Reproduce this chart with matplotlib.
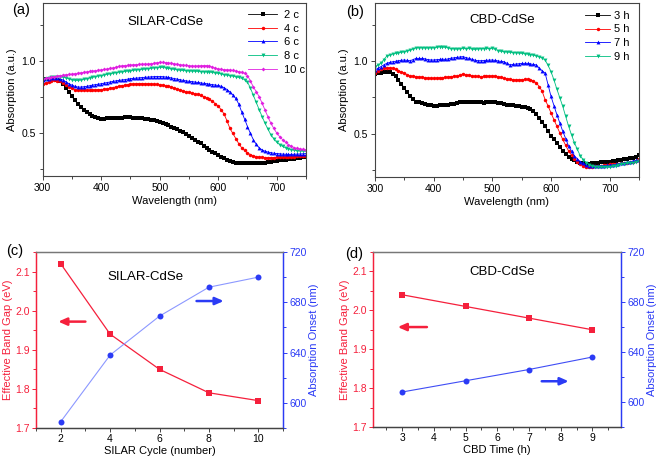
import numpy as np
import matplotlib
matplotlib.use("Agg")
import matplotlib.pyplot as plt
from matplotlib.ticker import MultipleLocator

plt.rcParams['font.family'] = ['Liberation Sans', 'DejaVu Sans']

# ---------------- data ----------------
wavelength = np.arange(300, 755, 5)

silar_labels = ["2 c", "4 c", "6 c", "8 c", "10 c"]
silar_2c = [0.868, 0.870, 0.872, 0.873, 0.872, 0.868, 0.860, 0.840, 0.812, 0.782,
            0.752, 0.724, 0.700, 0.679, 0.660, 0.644, 0.630, 0.617, 0.606, 0.600,
            0.598, 0.598, 0.600, 0.600, 0.601, 0.602, 0.604, 0.605, 0.606, 0.607,
            0.606, 0.605, 0.604, 0.602, 0.600, 0.597, 0.594, 0.590, 0.586, 0.582,
            0.577, 0.570, 0.562, 0.553, 0.543, 0.533, 0.523, 0.513, 0.502, 0.490,
            0.478, 0.465, 0.452, 0.439, 0.426, 0.410, 0.395, 0.381, 0.368, 0.358,
            0.349, 0.335, 0.322, 0.312, 0.304, 0.298, 0.293, 0.290, 0.288, 0.288,
            0.288, 0.288, 0.289, 0.290, 0.291, 0.292, 0.293, 0.296, 0.299, 0.302,
            0.305, 0.308, 0.311, 0.313, 0.315, 0.318, 0.321, 0.324, 0.327, 0.330,
            0.333]
silar_4c = [0.840, 0.845, 0.852, 0.860, 0.863, 0.862, 0.858, 0.848, 0.832, 0.818,
            0.808, 0.800, 0.796, 0.794, 0.794, 0.795, 0.795, 0.796, 0.797, 0.799,
            0.800, 0.802, 0.805, 0.808, 0.813, 0.818, 0.823, 0.827, 0.830, 0.834,
            0.837, 0.839, 0.840, 0.841, 0.841, 0.840, 0.840, 0.839, 0.837, 0.835,
            0.833, 0.830, 0.826, 0.822, 0.817, 0.810, 0.803, 0.796, 0.790, 0.784,
            0.780, 0.776, 0.772, 0.766, 0.759, 0.751, 0.742, 0.732, 0.718, 0.702,
            0.685, 0.660, 0.630, 0.582, 0.530, 0.495, 0.460, 0.425, 0.396, 0.377,
            0.360, 0.349, 0.340, 0.335, 0.331, 0.329, 0.328, 0.328, 0.328, 0.328,
            0.329, 0.329, 0.330, 0.331, 0.332, 0.333, 0.335, 0.337, 0.339, 0.341,
            0.342]
silar_6c = [0.868, 0.872, 0.876, 0.879, 0.880, 0.878, 0.874, 0.865, 0.852, 0.840,
            0.830, 0.822, 0.817, 0.817, 0.819, 0.822, 0.826, 0.830, 0.834, 0.837,
            0.840, 0.844, 0.848, 0.852, 0.856, 0.860, 0.863, 0.866, 0.868, 0.872,
            0.875, 0.877, 0.879, 0.881, 0.883, 0.885, 0.886, 0.888, 0.889, 0.890,
            0.890, 0.889, 0.887, 0.884, 0.880, 0.876, 0.872, 0.868, 0.863, 0.860,
            0.857, 0.855, 0.852, 0.849, 0.846, 0.843, 0.840, 0.837, 0.834, 0.831,
            0.828, 0.822, 0.813, 0.800, 0.783, 0.763, 0.738, 0.700, 0.646, 0.595,
            0.543, 0.495, 0.452, 0.420, 0.395, 0.381, 0.372, 0.366, 0.362, 0.358,
            0.356, 0.354, 0.352, 0.351, 0.350, 0.350, 0.351, 0.352, 0.353, 0.354,
            0.356]
silar_8c = [0.870, 0.876, 0.882, 0.886, 0.888, 0.890, 0.889, 0.885, 0.880, 0.874,
            0.868, 0.864, 0.863, 0.866, 0.870, 0.875, 0.880, 0.885, 0.890, 0.894,
            0.897, 0.901, 0.905, 0.909, 0.913, 0.917, 0.920, 0.922, 0.925, 0.928,
            0.930, 0.933, 0.936, 0.938, 0.940, 0.942, 0.945, 0.947, 0.950, 0.952,
            0.954, 0.953, 0.950, 0.946, 0.943, 0.940, 0.937, 0.934, 0.932, 0.930,
            0.929, 0.928, 0.927, 0.926, 0.924, 0.923, 0.922, 0.922, 0.918, 0.915,
            0.913, 0.908, 0.903, 0.900, 0.897, 0.893, 0.888, 0.884, 0.878, 0.868,
            0.852, 0.810, 0.760, 0.710, 0.660, 0.612, 0.566, 0.525, 0.486, 0.458,
            0.434, 0.418, 0.405, 0.396, 0.388, 0.383, 0.379, 0.376, 0.374, 0.373,
            0.372]
silar_10c = [0.874, 0.878, 0.882, 0.886, 0.890, 0.893, 0.896, 0.900, 0.903, 0.905,
             0.907, 0.910, 0.913, 0.916, 0.919, 0.922, 0.925, 0.928, 0.931, 0.934,
             0.936, 0.939, 0.942, 0.946, 0.950, 0.955, 0.960, 0.964, 0.966, 0.968,
             0.970, 0.972, 0.973, 0.975, 0.976, 0.977, 0.977, 0.979, 0.982, 0.986,
             0.989, 0.988, 0.986, 0.984, 0.982, 0.978, 0.975, 0.972, 0.970, 0.967,
             0.965, 0.964, 0.963, 0.964, 0.965, 0.966, 0.966, 0.962, 0.955, 0.948,
             0.943, 0.940, 0.938, 0.937, 0.936, 0.932, 0.928, 0.924, 0.920, 0.912,
             0.897, 0.860, 0.817, 0.785, 0.750, 0.705, 0.657, 0.610, 0.566, 0.530,
             0.498, 0.473, 0.452, 0.434, 0.418, 0.406, 0.396, 0.391, 0.388, 0.384,
             0.379]

cbd_labels = ["3 h", "5 h", "7 h", "9 h"]
cbd_3h = [0.911, 0.915, 0.920, 0.924, 0.927, 0.922, 0.911, 0.895, 0.870, 0.842,
          0.813, 0.784, 0.756, 0.735, 0.720, 0.714, 0.710, 0.705, 0.699, 0.695,
          0.692, 0.693, 0.694, 0.695, 0.696, 0.699, 0.702, 0.706, 0.710, 0.716,
          0.720, 0.718, 0.715, 0.714, 0.715, 0.716, 0.715, 0.713, 0.714, 0.716,
          0.717, 0.715, 0.712, 0.708, 0.705, 0.700, 0.696, 0.694, 0.692, 0.688,
          0.685, 0.681, 0.676, 0.666, 0.653, 0.632, 0.607, 0.582, 0.550, 0.515,
          0.482, 0.460, 0.436, 0.408, 0.379, 0.358, 0.340, 0.326, 0.315, 0.306,
          0.300, 0.295, 0.292, 0.293, 0.295, 0.297, 0.300, 0.302, 0.303, 0.305,
          0.306, 0.309, 0.311, 0.314, 0.317, 0.321, 0.325, 0.329, 0.333, 0.341,
          0.349]
cbd_5h = [0.920, 0.932, 0.943, 0.950, 0.954, 0.953, 0.950, 0.943, 0.934, 0.925,
          0.916, 0.906, 0.897, 0.895, 0.893, 0.890, 0.888, 0.885, 0.883, 0.882,
          0.881, 0.883, 0.885, 0.886, 0.888, 0.890, 0.893, 0.895, 0.897, 0.904,
          0.911, 0.906, 0.902, 0.898, 0.895, 0.894, 0.893, 0.894, 0.896, 0.897,
          0.897, 0.896, 0.893, 0.887, 0.881, 0.878, 0.875, 0.872, 0.870, 0.871,
          0.872, 0.873, 0.874, 0.870, 0.863, 0.848, 0.824, 0.790, 0.733, 0.690,
          0.642, 0.596, 0.550, 0.505, 0.459, 0.418, 0.379, 0.350, 0.326, 0.305,
          0.288, 0.277, 0.269, 0.270, 0.272, 0.274, 0.276, 0.279, 0.282, 0.285,
          0.288, 0.290, 0.291, 0.292, 0.294, 0.296, 0.299, 0.302, 0.304, 0.312,
          0.326]
cbd_7h = [0.938, 0.950, 0.961, 0.973, 0.984, 0.990, 0.995, 0.998, 1.002, 1.005,
          1.007, 1.004, 1.002, 1.010, 1.018, 1.018, 1.018, 1.015, 1.010, 1.007,
          1.007, 1.009, 1.011, 1.013, 1.011, 1.015, 1.020, 1.022, 1.025, 1.028,
          1.030, 1.024, 1.018, 1.012, 1.006, 1.002, 1.002, 1.003, 1.005, 1.006,
          1.007, 1.004, 1.000, 0.997, 0.995, 0.984, 0.973, 0.976, 0.979, 0.981,
          0.983, 0.984, 0.984, 0.980, 0.976, 0.973, 0.950, 0.933, 0.916, 0.836,
          0.756, 0.693, 0.630, 0.573, 0.516, 0.465, 0.413, 0.379, 0.345, 0.325,
          0.306, 0.294, 0.283, 0.279, 0.276, 0.276, 0.276, 0.277, 0.278, 0.280,
          0.281, 0.284, 0.287, 0.290, 0.294, 0.297, 0.301, 0.305, 0.311, 0.314,
          0.317]
cbd_9h = [0.961, 0.972, 0.984, 1.010, 1.034, 1.041, 1.048, 1.052, 1.057, 1.060,
          1.064, 1.070, 1.075, 1.083, 1.091, 1.091, 1.091, 1.090, 1.090, 1.091,
          1.091, 1.094, 1.098, 1.096, 1.094, 1.090, 1.086, 1.084, 1.082, 1.085,
          1.087, 1.085, 1.087, 1.083, 1.080, 1.083, 1.085, 1.086, 1.087, 1.086,
          1.087, 1.080, 1.072, 1.066, 1.064, 1.062, 1.060, 1.058, 1.057, 1.055,
          1.053, 1.050, 1.048, 1.044, 1.040, 1.035, 1.030, 1.020, 1.007, 0.970,
          0.927, 0.870, 0.806, 0.747, 0.687, 0.618, 0.550, 0.490, 0.436, 0.390,
          0.345, 0.320, 0.300, 0.286, 0.276, 0.272, 0.269, 0.269, 0.269, 0.269,
          0.269, 0.273, 0.277, 0.282, 0.288, 0.292, 0.295, 0.298, 0.300, 0.305,
          0.311]

silar_cycles = [2, 4, 6, 8, 10]
silar_gap = [2.12, 1.94, 1.85, 1.79, 1.77]
silar_onset = [585, 638, 669, 692, 700]

cbd_time = [3, 5, 7, 9]
cbd_gap = [2.04, 2.01, 1.98, 1.95]
cbd_onset = [608, 617, 626, 636]

# ---------------- style ----------------
W, H = 659, 458
fig = plt.figure(figsize=(W / 100, H / 100), dpi=100)

def rect(l, t, r, b):
    return [l / W, 1 - b / H, (r - l) / W, (b - t) / H]

FR = '#444444'
RED = '#F5203C'
BLUE = '#2B3BF5'
TICK_FS = 7.5
LAB_FS = 8
TITLE_FS = 9.5
PANEL_FS = 10.5

series_colors = ['#000000', '#FF0000', '#0000FF', '#00BF80', '#E020E0']
series_markers = ['s', 'o', '^', 'v', 'D']
series_ms = [2.3, 2.5, 2.8, 2.8, 2.0]

def style_axes(ax):
    for s in ax.spines.values():
        s.set_color(FR)
        s.set_linewidth(0.8)
    ax.tick_params(which='both', direction='out', colors=FR, width=0.7,
                   labelsize=TICK_FS, labelcolor='black', pad=2)
    ax.tick_params(which='major', length=3)
    ax.tick_params(which='minor', length=2)

def spectra(ax, data, labels, title, panel, title_xy, legend_anchor,
            handlelength, textpad):
    for i, (vals, lab) in enumerate(zip(data, labels)):
        ax.plot(wavelength, vals, color=series_colors[i], lw=0.6,
                marker=series_markers[i], ms=series_ms[i], mew=0,
                label=lab)
    ax.set_xlim(300, 750)
    ax.set_ylim(0.2, 1.4)
    ax.xaxis.set_major_locator(MultipleLocator(100))
    ax.xaxis.set_minor_locator(MultipleLocator(50))
    ax.yaxis.set_major_locator(MultipleLocator(0.5))
    ax.yaxis.set_minor_locator(MultipleLocator(0.25))
    ax.yaxis.set_major_formatter(plt.FuncFormatter(lambda v, p: f"{v:.1f}"))
    style_axes(ax)
    ax.set_xlabel("Wavelength (nm)", fontsize=LAB_FS, labelpad=2)
    ax.set_ylabel("Absorption (a.u.)", fontsize=LAB_FS, labelpad=3)
    ax.text(title_xy[0], title_xy[1], title, transform=ax.transAxes,
            fontsize=TITLE_FS, ha='center', va='center')
    ax.legend(loc='upper left', bbox_to_anchor=legend_anchor,
              frameon=False, fontsize=LAB_FS, handlelength=handlelength,
              handletextpad=textpad, labelspacing=0.33, numpoints=1,
              borderaxespad=0, borderpad=0)
    fig.text(panel[0] / W, 1 - panel[1] / H, panel[2], fontsize=PANEL_FS,
             ha='left', va='center')

# (a)
ax_a = fig.add_axes(rect(42.7, 3, 306, 176))
spectra(ax_a, [silar_2c, silar_4c, silar_6c, silar_8c, silar_10c],
        silar_labels, "SILAR-CdSe", (12, 10, "(a)"), (0.468, 0.89),
        (0.78, 0.96), 2.6, 0.6)

# (b)
ax_b = fig.add_axes(rect(375, 3, 639, 177))
spectra(ax_b, [cbd_3h, cbd_5h, cbd_7h, cbd_9h],
        cbd_labels, "CBD-CdSe", (346, 12, "(b)"), (0.48, 0.90),
        (0.795, 0.955), 2.3, 0.35)

def gap_panel(rec, x, gap, onset, xlim, xmaj, xmin, xlabel, title, title_xy,
              panel, red_arrow, blue_arrow, blue_line):
    ax = fig.add_axes(rec)
    ax2 = ax.twinx()
    ax.plot(x, gap, color=RED, lw=0.9, marker='s', ms=4, mew=0)
    ax2.plot(x, onset, color=blue_line, lw=0.8)
    ax2.plot(x, onset, ls='none', marker='o', ms=4.3, mew=0, color=BLUE)
    ax.set_xlim(*xlim)
    ax.set_ylim(1.7, 2.15)
    ax2.set_ylim(580, 720)
    ax.xaxis.set_major_locator(MultipleLocator(xmaj))
    ax.xaxis.set_minor_locator(MultipleLocator(xmin))
    ax.yaxis.set_major_locator(MultipleLocator(0.1))
    ax.yaxis.set_minor_locator(MultipleLocator(0.05))
    ax2.yaxis.set_major_locator(MultipleLocator(40))
    ax2.yaxis.set_minor_locator(MultipleLocator(20))
    ax.yaxis.set_major_formatter(plt.FuncFormatter(lambda v, p: f"{v:.1f}"))
    for a in (ax, ax2):
        for s in a.spines.values():
            s.set_linewidth(0.9)
        a.spines['top'].set_color('#777777')
        a.spines['bottom'].set_color(FR)
        a.spines['left'].set_color(RED)
        a.spines['right'].set_color(BLUE)
    ax.tick_params(axis='x', which='both', direction='out', colors=FR,
                   labelcolor='black', labelsize=TICK_FS, width=0.7, pad=1.5)
    ax.tick_params(axis='y', which='both', direction='out', colors=RED,
                   labelcolor=RED, labelsize=TICK_FS, width=0.7, pad=1.5)
    ax2.tick_params(axis='y', which='both', direction='out', colors=BLUE,
                    labelcolor=BLUE, labelsize=TICK_FS, width=0.7, pad=1.5)
    for a in (ax, ax2):
        a.tick_params(which='major', length=3)
        a.tick_params(which='minor', length=2)
    ax.set_xlabel(xlabel, fontsize=LAB_FS, labelpad=1)
    ax.set_ylabel("Effective Band Gap (eV)", fontsize=LAB_FS, color=RED,
                  labelpad=1.5)
    ax2.set_ylabel("Absorption Onset (nm)", fontsize=LAB_FS, color=BLUE,
                   labelpad=2)
    ax.text(title_xy[0], title_xy[1], title, transform=ax.transAxes,
            fontsize=TITLE_FS, ha='center', va='center')
    ax.annotate("", xy=(red_arrow[0], red_arrow[2]),
                xytext=(red_arrow[1], red_arrow[2]),
                arrowprops=dict(arrowstyle='-|>,head_length=0.5,head_width=0.22',
                                color=RED, lw=1.8, shrinkA=0, shrinkB=0))
    ax2.annotate("", xy=(blue_arrow[1], blue_arrow[2]),
                 xytext=(blue_arrow[0], blue_arrow[2]),
                 arrowprops=dict(arrowstyle='-|>,head_length=0.5,head_width=0.22',
                                 color=BLUE, lw=1.8, shrinkA=0, shrinkB=0))
    fig.text(panel[0] / W, 1 - panel[1] / H, panel[2], fontsize=PANEL_FS,
             ha='left', va='center')
    return ax, ax2

# (c)
gap_panel(rect(36, 252, 283, 428), silar_cycles, silar_gap, silar_onset,
          (1, 11), 2, 1, "SILAR Cycle (number)", "SILAR-CdSe", (0.445, 0.86),
          (6, 251, "(c)"), (1.9, 3.0, 1.972), (7.5, 8.6, 681), '#8C98FF')

# (d)
gap_panel(rect(373, 252, 621, 427), cbd_time, cbd_gap, cbd_onset,
          (2.08, 9.9), 1, 0.5, "CBD Time (h)", "CBD-CdSe", (0.52, 0.885),
          (345, 254, "(d)"), (2.86, 3.78, 1.957), (7.4, 8.25, 616.6), '#3F4DF5')

fig.savefig("out.png", dpi=100)
